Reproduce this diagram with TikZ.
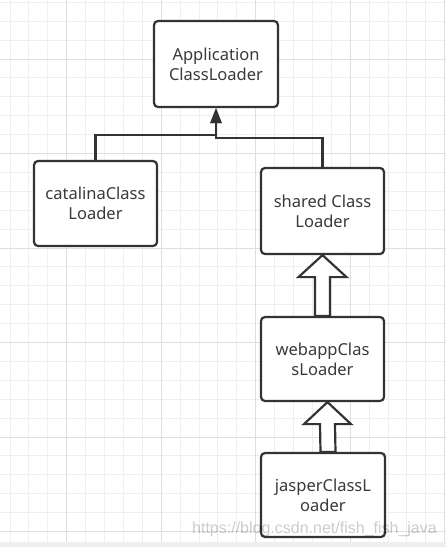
\documentclass[tikz,border=0pt]{standalone}
\usepackage{fontspec}
\setmainfont{Noto Sans}
\newfontfamily\markfont{Liberation Sans}
\usetikzlibrary{arrows.meta,calc,positioning}
\definecolor{gridminor}{HTML}{EFEFEF}
\definecolor{gridmajor}{HTML}{DEDEDE}
\definecolor{ink}{HTML}{333333}
\definecolor{txt}{HTML}{3A3A3A}

\begin{document}
\begin{tikzpicture}[x=1pt, y=-1pt,
    loader/.style={draw=ink, line width=2.2pt, rounded corners=4pt, fill=white, minimum width=123pt, minimum height=85pt, align=center, font=\fontsize{16.5}{20}\selectfont, text=txt},
    conn/.style={-{Triangle[length=15pt,width=11pt]}, line width=2.2pt, draw=ink},
    fat/.style={draw=ink, line width=2.2pt, fill=white, line join=miter}
]
\useasboundingbox (0,0) rectangle (446,547);
\fill[white] (0,0) rectangle (446,547);
% grid
\foreach \k in {0,...,23} \draw[gridminor, line width=1pt] ({10+18.9*\k},0) -- ({10+18.9*\k},542);
\foreach \k in {0,...,28} \draw[gridminor, line width=1pt] (0,{2.3+18.9*\k}) -- (446,{2.3+18.9*\k});
\foreach \k in {3,8,13,18,23} \draw[gridmajor, line width=1pt] ({10+18.9*\k},0) -- ({10+18.9*\k},542);
\foreach \k in {3,8,13,18,23,28} \draw[gridmajor, line width=1pt] (0,{2.3+18.9*\k}) -- (446,{2.3+18.9*\k});
\fill[gridminor] (0,542) rectangle (446,547);

\node[loader, minimum width=124pt, minimum height=86pt] (app) at (216,64) {Application\\ClassLoader};
\node[loader] (catalina) at (95.5,203.5) {catalinaClass\\Loader};
\node[loader, minimum height=86pt] (shared) at (322.5,211) {shared Class\\Loader};
\node[loader, minimum height=84pt] (webapp) at (322.5,359) {webappClas\\sLoader};
\node[loader, minimum width=124pt, minimum height=84pt] (jasper) at (323,495) {jasperClassL\\oader};

\draw[conn] (catalina.north) -- ++(0,-25) -| (app.south);
\draw[conn] (shared.north) -- ++(0,-29) -| (app.south);

% hollow arrows
\draw[fat] (shared.south) -- ++(24,22) -- ++(-16.5,0) -- ($(webapp.north)+(7.5,0)$) -- ($(webapp.north)+(-7.5,0)$) -- ($(shared.south)+(-7.5,22)$) -- ++(-16.5,0) -- cycle;
\coordinate (tip) at ($(webapp.south)+(5,0)$);
\coordinate (foot) at ($(jasper.north)+(5,0)$);
\draw[fat] (tip) -- ++(23.5,22) -- ++(-16,0) -- ($(foot)+(7.5,0)$) -- ($(foot)+(-7.5,0)$) -- ($(tip)+(-7.5,22)$) -- ++(-16,0) -- cycle;

\node[text=black, text opacity=0.2, font=\markfont\fontsize{16}{16}\selectfont, anchor=base east, inner sep=0pt] (mark) at (437,533) {https://blog.csdn.net/fish\_fish\_java};
\end{tikzpicture}
\end{document}
